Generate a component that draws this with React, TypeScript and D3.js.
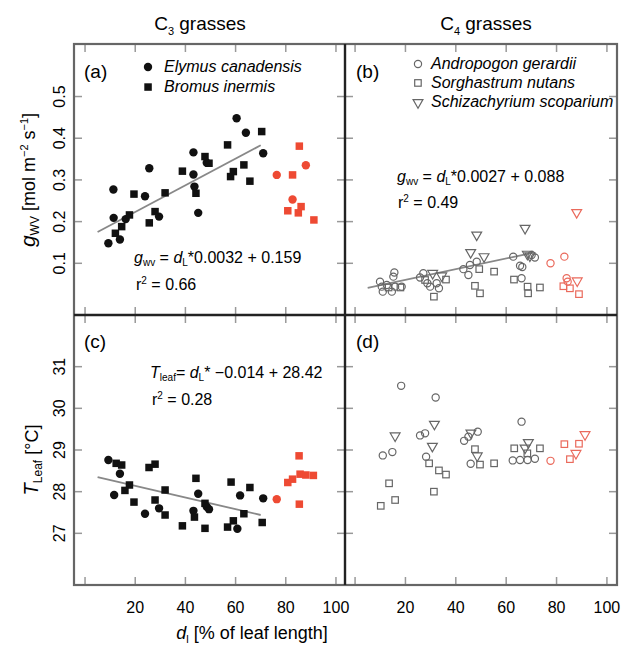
import React from 'react';
import * as d3 from 'd3';

// panel (a): g_wv vs d_L, C3 grasses
const aElymus: [number, number][] = [
  [9.3, 0.148], [11.3, 0.277], [11.4, 0.209], [13.9, 0.157], [16.2, 0.206], [23.9, 0.261],
  [25.6, 0.328], [29.5, 0.212], [43.2, 0.366], [43.2, 0.313], [43.6, 0.284], [45.1, 0.221],
  [48.5, 0.341], [60.4, 0.448], [64.1, 0.413], [71.0, 0.364],
];
const aBromus: [number, number][] = [
  [12.1, 0.172], [14.6, 0.188], [17.7, 0.216], [19.5, 0.266], [25.6, 0.197], [27.9, 0.224],
  [31.9, 0.269], [38.8, 0.321], [44.2, 0.268], [47.8, 0.356], [49.4, 0.340], [56.8, 0.384],
  [58.0, 0.308], [59.1, 0.320], [63.3, 0.336], [65.7, 0.297], [70.4, 0.416],
];
const aRedCircles: [number, number][] = [[76.4, 0.312], [88.0, 0.335], [82.7, 0.253]];
const aRedSquares: [number, number][] = [
  [82.7, 0.312], [85.4, 0.381], [80.8, 0.226], [86.1, 0.236], [85.0, 0.221], [91.2, 0.204],
];
const aLine: [number, number][] = [[5, 0.175], [70, 0.383]];

// panel (b): g_wv vs d_L, C4 grasses
const bAndropogon: [number, number][] = [
  [9.9, 0.056], [10.6, 0.044], [11.0, 0.032], [12.6, 0.048], [14.6, 0.032], [15.2, 0.068],
  [15.6, 0.078], [15.9, 0.044], [18.5, 0.044], [25.8, 0.066], [27.1, 0.076], [28.7, 0.052],
  [29.8, 0.044], [32.4, 0.052], [33.3, 0.040], [43.0, 0.086], [45.0, 0.072], [45.6, 0.096],
  [48.3, 0.104], [62.8, 0.116], [65.5, 0.094], [66.1, 0.064], [66.4, 0.091], [70.1, 0.120],
  [71.4, 0.114],
];
const bSorghastrum: [number, number][] = [
  [13.3, 0.042], [18.0, 0.042], [31.3, 0.020], [27.8, 0.060], [36.1, 0.061], [47.6, 0.046],
  [49.6, 0.028], [49.3, 0.086], [55.2, 0.080], [63.1, 0.061], [68.5, 0.044], [68.7, 0.028],
  [73.4, 0.042],
];
const bSchizachyrium: [number, number][] = [
  [30.8, 0.078], [34.4, 0.072], [48.3, 0.170], [45.9, 0.128], [51.2, 0.118], [67.5, 0.186],
  [68.4, 0.124], [69.4, 0.120],
];
const bRedCircles: [number, number][] = [[77.6, 0.100], [83.1, 0.116], [84.0, 0.064], [84.4, 0.056]];
const bRedSquares: [number, number][] = [[82.7, 0.045], [85.3, 0.040], [88.9, 0.026]];
const bRedTriangles: [number, number][] = [[88.0, 0.224], [88.2, 0.060]];
const bLine: [number, number][] = [[5, 0.041], [70.5, 0.125]];

// panel (c): T_leaf vs d_L, C3 grasses
const cElymus: [number, number][] = [
  [9.3, 28.76], [13.9, 28.43], [11.6, 27.92], [23.9, 27.47], [29.5, 27.60], [43.2, 27.54],
  [45.1, 27.95], [48.5, 27.64], [49.4, 27.58], [60.7, 27.11], [61.8, 27.91], [71.0, 27.84],
];
const cBromus: [number, number][] = [
  [12.4, 28.68], [14.6, 28.64], [17.7, 28.16], [15.9, 28.03], [19.5, 27.75], [25.5, 28.58],
  [27.9, 28.66], [27.9, 27.80], [31.9, 28.04], [31.9, 27.44], [38.8, 27.18], [43.6, 27.39],
  [44.2, 28.32], [47.8, 27.72], [47.8, 27.12], [56.8, 27.15], [58.2, 28.23], [59.1, 27.30],
  [63.3, 27.47], [65.7, 28.10], [70.6, 27.26],
];
const cRedCircles: [number, number][] = [[76.4, 27.82]];
const cRedSquares: [number, number][] = [
  [80.8, 28.22], [82.7, 28.30], [85.3, 28.86], [85.7, 28.42], [88.0, 28.40], [91.0, 28.39],
  [85.4, 27.70],
];
const cLine: [number, number][] = [[5, 28.35], [70, 27.44]];

// panel (d): T_leaf vs d_L, C4 grasses
const dAndropogon: [number, number][] = [
  [18.3, 30.54], [32.0, 30.26], [11.0, 28.87], [14.8, 28.95], [25.8, 29.35], [27.8, 29.40],
  [28.2, 28.84], [43.3, 29.22], [45.0, 29.32], [48.7, 29.44], [45.9, 28.67], [66.1, 29.68],
  [62.6, 28.75], [65.5, 28.76], [68.5, 28.76], [71.4, 28.79],
];
const dSorghastrum: [number, number][] = [
  [10.2, 27.66], [13.5, 28.20], [15.9, 27.80], [29.4, 28.68], [31.3, 28.00], [33.3, 28.51],
  [36.1, 28.41], [47.6, 29.02], [49.6, 28.65], [55.2, 28.68], [63.2, 29.04], [68.4, 28.92],
  [73.4, 29.04],
];
const dSchizachyrium: [number, number][] = [
  [15.9, 29.36], [31.5, 29.64], [30.7, 29.11], [46.0, 29.43], [48.5, 28.88], [68.8, 29.20],
  [67.5, 29.07],
];
const dRedCircles: [number, number][] = [[77.6, 28.74]];
const dRedSquares: [number, number][] = [[83.1, 29.14], [85.3, 28.78], [88.9, 29.15]];
const dRedTriangles: [number, number][] = [[87.7, 28.94], [91.3, 29.39]];

const xTicks = [0, 20, 40, 60, 80, 100];
const xTickLabels = [20, 40, 60, 80, 100];
const gTicks = [0.1, 0.2, 0.3, 0.4, 0.5];
const tTicks = [27, 28, 29, 30, 31];

const RED = '#ee4a33';
const RED_OPEN = '#ea6a5c';
const GRAY = '#666';
const FONT = '"Liberation Sans", Arial, sans-serif';

const xLeft = d3.scaleLinear().domain([-4.4, 103.6]).range([74, 345]);
const xRight = d3.scaleLinear().domain([-4, 104]).range([345, 617]);
const yTop = d3.scaleLinear().domain([-0.024, 0.626]).range([315, 44]);
const yBot = d3.scaleLinear().domain([25.76, 32.24]).range([585, 315]);

const triPath = d3.symbol(d3.symbolTriangle, 42)()!;
const line = d3.line<[number, number]>();

type Scale = d3.ScaleLinear<number, number>;

function Dots({ data, x, y, shape, fill, stroke }: {
  data: [number, number][]; x: Scale; y: Scale; shape: string; fill: string; stroke?: string;
}) {
  return (
    <g>
      {data.map((d, i) => {
        const cx = x(d[0]);
        const cy = y(d[1]);
        const sw = stroke ? 1.2 : 0;
        if (shape === 'circle') {
          const r = stroke ? 3.6 : 4.2;
          return <circle key={i} cx={cx} cy={cy} r={r} fill={fill} stroke={stroke} strokeWidth={sw} />;
        }
        if (shape === 'square') {
          const s = stroke ? 6.5 : 7.5;
          return <rect key={i} x={cx - s / 2} y={cy - s / 2} width={s} height={s} fill={fill} stroke={stroke} strokeWidth={sw} />;
        }
        return <path key={i} d={triPath} transform={`translate(${cx},${cy + 0.8}) rotate(180)`} fill={fill} stroke={stroke} strokeWidth={sw} />;
      })}
    </g>
  );
}

function Ticks({ x, y, yTicks }: { x: Scale; y: Scale; yTicks: number[] }) {
  const [x0, x1] = x.range();
  const [y1, y0] = y.range();
  const L = 7;
  return (
    <g stroke="#999" strokeWidth={1.5}>
      {xTicks.map(t => (
        <g key={'x' + t}>
          <line x1={x(t)} x2={x(t)} y1={y0 + 1} y2={y0 + 1 + L} />
          <line x1={x(t)} x2={x(t)} y1={y1 - 1} y2={y1 - 1 - L} />
        </g>
      ))}
      {yTicks.map(t => (
        <g key={'y' + t}>
          <line x1={x0 + 1} x2={x0 + 1 + L} y1={y(t)} y2={y(t)} />
          <line x1={x1 - 1} x2={x1 - 1 - L} y1={y(t)} y2={y(t)} />
        </g>
      ))}
    </g>
  );
}

function Fit({ data, x, y }: { data: [number, number][]; x: Scale; y: Scale }) {
  return <path d={line(data.map(d => [x(d[0]), y(d[1])]))!} stroke="#888" strokeWidth={1.8} fill="none" />;
}

export default function App() {
  return (
    <div style={{ position: 'absolute', left: 0, top: 0 }}>
      <svg width={637} height={651} style={{ display: 'block', fontFamily: FONT }}>
        <rect width={637} height={651} fill="#fff" />

        {/* titles */}
        <text x={200} y={30} fontSize={19} textAnchor="middle">
          C<tspan fontSize={11} dy={5}>3</tspan><tspan dy={-5}> grasses</tspan>
        </text>
        <text x={486} y={30} fontSize={19} textAnchor="middle">
          C<tspan fontSize={11} dy={5}>4</tspan><tspan dy={-5}> grasses</tspan>
        </text>

        {/* ticks */}
        <Ticks x={xLeft} y={yTop} yTicks={gTicks} />
        <Ticks x={xRight} y={yTop} yTicks={gTicks} />
        <Ticks x={xLeft} y={yBot} yTicks={tTicks} />
        <Ticks x={xRight} y={yBot} yTicks={tTicks} />

        {/* frame */}
        <rect x={74} y={44} width={543} height={541} fill="none" stroke={GRAY} strokeWidth={2.2} />
        <line x1={345} x2={345} y1={44} y2={585} stroke="#222" strokeWidth={2.4} />
        <line x1={74} x2={617} y1={315} y2={315} stroke="#222" strokeWidth={2.4} />

        {/* y tick labels */}
        {gTicks.map(t => (
          <text key={t} transform={`translate(65,${yTop(t)}) rotate(-90)`} fontSize={16} textAnchor="middle">{t.toFixed(1)}</text>
        ))}
        {tTicks.map(t => (
          <text key={t} transform={`translate(65,${yBot(t)}) rotate(-90)`} fontSize={16} textAnchor="middle">{t}</text>
        ))}

        {/* y axis titles */}
        <text transform={`translate(35,180) rotate(-90)`} fontSize={18} textAnchor="middle">
          <tspan fontStyle="italic" fontSize={21}>g</tspan>
          <tspan fontSize={12} dy={4}>WV</tspan>
          <tspan dy={-4}> [mol m</tspan>
          <tspan fontSize={11} dy={-7}>−2</tspan>
          <tspan dy={7}> s</tspan>
          <tspan fontSize={11} dy={-7}>−1</tspan>
          <tspan dy={7}>]</tspan>
        </text>
        <text transform={`translate(38,460) rotate(-90)`} fontSize={18} textAnchor="middle">
          <tspan fontStyle="italic" fontSize={20}>T</tspan>
          <tspan fontSize={12} dy={4}>Leaf</tspan>
          <tspan dy={-4}> [°C]</tspan>
        </text>

        {/* x tick labels */}
        {xTickLabels.map(t => (
          <text key={'l' + t} x={xLeft(t)} y={613} fontSize={16} textAnchor="middle">{t}</text>
        ))}
        {xTickLabels.map(t => (
          <text key={'r' + t} x={xRight(t)} y={613} fontSize={16} textAnchor="middle">{t}</text>
        ))}
        <text x={252} y={639} fontSize={18} textAnchor="middle">
          <tspan fontStyle="italic">d</tspan>
          <tspan fontSize={11} dy={4}>l</tspan>
          <tspan dy={-4}> [% of leaf length]</tspan>
        </text>

        {/* panel labels */}
        <text x={84} y={78} fontSize={19}>(a)</text>
        <text x={356} y={78} fontSize={19}>(b)</text>
        <text x={84} y={348} fontSize={19}>(c)</text>
        <text x={356} y={348} fontSize={19}>(d)</text>

        {/* legends */}
        <circle cx={148} cy={67} r={4.2} fill="#111" />
        <rect x={144.3} y={83.3} width={7.5} height={7.5} fill="#111" />
        <text x={164} y={72} fontSize={16} fontStyle="italic">Elymus canadensis</text>
        <text x={164} y={92} fontSize={16} fontStyle="italic">Bromus inermis</text>

        <circle cx={418} cy={64} r={3.6} fill="none" stroke={GRAY} strokeWidth={1.2} />
        <rect x={414.7} y={79.7} width={6.5} height={6.5} fill="none" stroke={GRAY} strokeWidth={1.2} />
        <path d={triPath} transform="translate(418,102.5) rotate(180)" fill="none" stroke={GRAY} strokeWidth={1.2} />
        <text x={431} y={69} fontSize={16} fontStyle="italic">Andropogon gerardii</text>
        <text x={431} y={88} fontSize={16} fontStyle="italic">Sorghastrum nutans</text>
        <text x={431} y={107} fontSize={16} fontStyle="italic">Schizachyrium scoparium</text>

        {/* equations */}
        <text x={134} y={263} fontSize={16}>
          <tspan fontStyle="italic">g</tspan><tspan fontSize={10} dy={3}>wv</tspan>
          <tspan dy={-3}> = </tspan><tspan fontStyle="italic">d</tspan>
          <tspan fontSize={10} dy={3}>L</tspan><tspan dy={-3}>*0.0032 + 0.159</tspan>
        </text>
        <text x={136} y={290} fontSize={16}>r<tspan fontSize={10} dy={-6}>2</tspan><tspan dy={6}> = 0.66</tspan></text>

        <text x={397} y={182} fontSize={16}>
          <tspan fontStyle="italic">g</tspan><tspan fontSize={10} dy={3}>wv</tspan>
          <tspan dy={-3}> = </tspan><tspan fontStyle="italic">d</tspan>
          <tspan fontSize={10} dy={3}>L</tspan><tspan dy={-3}>*0.0027 + 0.088</tspan>
        </text>
        <text x={398} y={208} fontSize={16}>r<tspan fontSize={10} dy={-6}>2</tspan><tspan dy={6}> = 0.49</tspan></text>

        <text x={150} y={378} fontSize={16}>
          <tspan fontStyle="italic">T</tspan><tspan fontSize={10} dy={3}>leaf</tspan>
          <tspan dy={-3}>= </tspan><tspan fontStyle="italic">d</tspan>
          <tspan fontSize={10} dy={3}>L</tspan><tspan dy={-3}>* −0.014 + 28.42</tspan>
        </text>
        <text x={152} y={405} fontSize={16}>r<tspan fontSize={10} dy={-6}>2</tspan><tspan dy={6}> = 0.28</tspan></text>

        {/* fits */}
        <Fit data={aLine} x={xLeft} y={yTop} />
        <Fit data={bLine} x={xRight} y={yTop} />
        <Fit data={cLine} x={xLeft} y={yBot} />

        {/* panel a */}
        <Dots data={aElymus} x={xLeft} y={yTop} shape="circle" fill="#111" />
        <Dots data={aBromus} x={xLeft} y={yTop} shape="square" fill="#111" />
        <Dots data={aRedCircles} x={xLeft} y={yTop} shape="circle" fill={RED} />
        <Dots data={aRedSquares} x={xLeft} y={yTop} shape="square" fill={RED} />

        {/* panel b */}
        <Dots data={bAndropogon} x={xRight} y={yTop} shape="circle" fill="none" stroke={GRAY} />
        <Dots data={bSorghastrum} x={xRight} y={yTop} shape="square" fill="none" stroke={GRAY} />
        <Dots data={bSchizachyrium} x={xRight} y={yTop} shape="triangle" fill="none" stroke={GRAY} />
        <Dots data={bRedCircles} x={xRight} y={yTop} shape="circle" fill="none" stroke={RED_OPEN} />
        <Dots data={bRedSquares} x={xRight} y={yTop} shape="square" fill="none" stroke={RED_OPEN} />
        <Dots data={bRedTriangles} x={xRight} y={yTop} shape="triangle" fill="none" stroke={RED_OPEN} />

        {/* panel c */}
        <Dots data={cElymus} x={xLeft} y={yBot} shape="circle" fill="#111" />
        <Dots data={cBromus} x={xLeft} y={yBot} shape="square" fill="#111" />
        <Dots data={cRedCircles} x={xLeft} y={yBot} shape="circle" fill={RED} />
        <Dots data={cRedSquares} x={xLeft} y={yBot} shape="square" fill={RED} />

        {/* panel d */}
        <Dots data={dAndropogon} x={xRight} y={yBot} shape="circle" fill="none" stroke={GRAY} />
        <Dots data={dSorghastrum} x={xRight} y={yBot} shape="square" fill="none" stroke={GRAY} />
        <Dots data={dSchizachyrium} x={xRight} y={yBot} shape="triangle" fill="none" stroke={GRAY} />
        <Dots data={dRedCircles} x={xRight} y={yBot} shape="circle" fill="none" stroke={RED_OPEN} />
        <Dots data={dRedSquares} x={xRight} y={yBot} shape="square" fill="none" stroke={RED_OPEN} />
        <Dots data={dRedTriangles} x={xRight} y={yBot} shape="triangle" fill="none" stroke={RED_OPEN} />
      </svg>
    </div>
  );
}
